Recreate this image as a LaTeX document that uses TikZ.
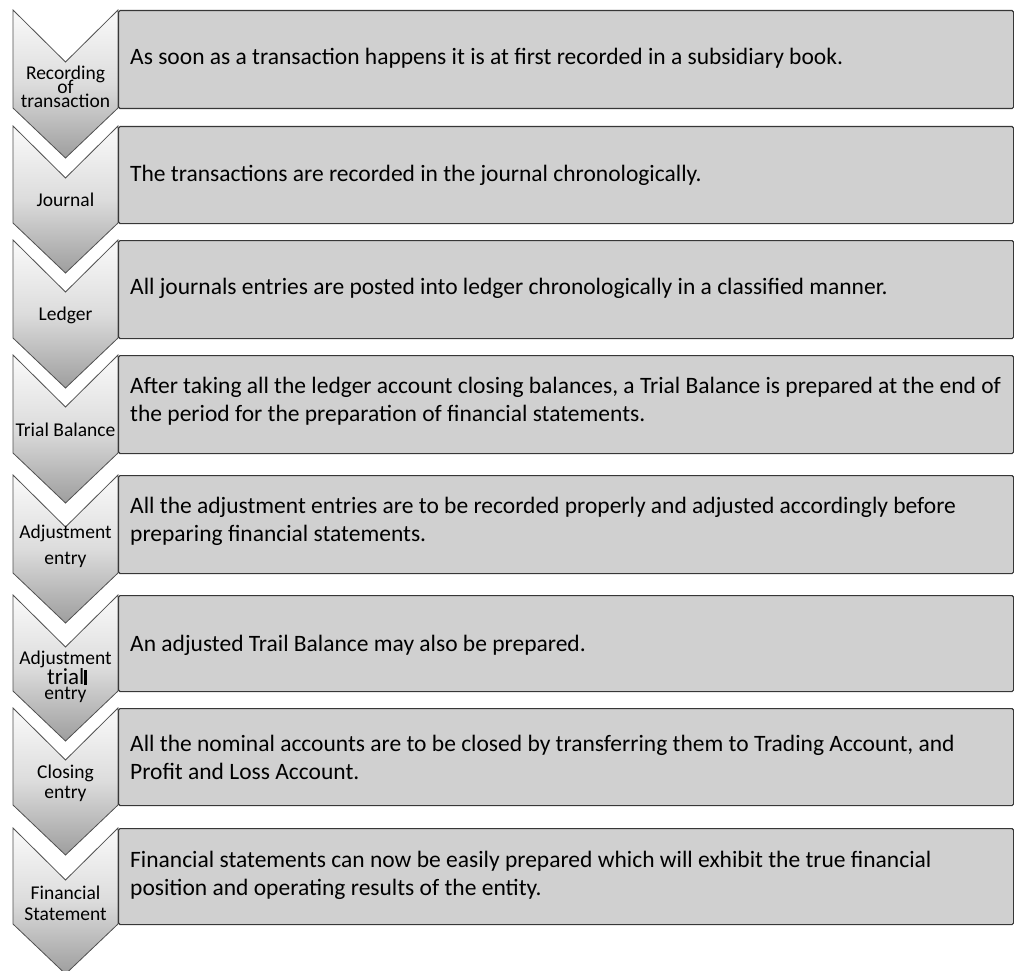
\documentclass[tikz,border=0pt]{standalone}
\usepackage{fontspec}
\setmainfont{Carlito}
\definecolor{boxfill}{RGB}{208,208,208}
\definecolor{boxline}{RGB}{55,55,55}
\definecolor{chevtop}{RGB}{250,250,250}
\definecolor{chevmid}{RGB}{220,220,220}
\definecolor{chevbot}{RGB}{158,158,158}
\definecolor{chevline}{RGB}{80,80,80}
\newcommand\clines[1]{\vtop{\halign{\hfil##\hfil\cr#1\crcr}}}
\newcommand\llines[1]{\vtop{\halign{##\hfil\cr#1\crcr}}}
\lineskiplimit=-100pt\relax
\begin{document}
\begin{tikzpicture}[x=1pt,y=-1pt,
  box/.style={draw=boxline, fill=boxfill, line width=1.1pt, rounded corners=1.5pt,
    anchor=north west, minimum width=895pt, inner sep=0pt},
  desc/.style={anchor=base west, inner sep=0pt, font=\fontsize{23.5}{28}\selectfont},
  lab/.style={anchor=base, inner sep=0pt, font=\fontsize{19.5}{14}\selectfont},
  chev/.style={draw=chevline, line width=0.8pt, top color=chevtop, bottom color=chevbot, middle color=chevmid}]
\useasboundingbox (0,0) rectangle (1014,971);
% chevrons
\foreach \t/\b in {10/108,126/223,240/338,355/453,475/573,595/691,708/805,828/924}{
  \path[chev] (13,\t) -- (65.5,\t+52) -- (118,\t) -- (118,\b) -- (65.5,\b+50) -- (13,\b) -- cycle;
}
% boxes
\node[box, minimum height=98pt] (b1) at (118,10) {};
\node[box, minimum height=97pt] (b2) at (118,126) {};
\node[box, minimum height=98pt] (b3) at (118,240) {};
\node[box, minimum height=98pt] (b4) at (118,355) {};
\node[box, minimum height=98pt] (b5) at (118,475) {};
\node[box, minimum height=96pt] (b6) at (118,595) {};
\node[box, minimum height=97pt] (b7) at (118,708) {};
\node[box, minimum height=96pt] (b8) at (118,828) {};
% descriptions
\node[desc] (d1) at (130,65) {As soon as a transaction happens it is at first recorded in a subsidiary book.};
\node[desc] (d2) at (130,181) {The transactions are recorded in the journal chronologically.};
\node[desc] (d3) at (130,294) {All journals entries are posted into ledger chronologically in a classified manner.};
\node[desc] (d4) at (130,393) {\llines{After taking all the ledger account closing balances, a Trial Balance is prepared at the end of\cr the period for the preparation of financial statements.}};
\node[desc] (d5) at (130,513) {\llines{All the adjustment entries are to be recorded properly and adjusted accordingly before\cr preparing financial statements.}};
\node[desc] (d6) at (130,651) {An adjusted Trail Balance may also be prepared.};
\node[desc] (d7) at (130,751) {\llines{All the nominal accounts are to be closed by transferring them to Trading Account, and\cr Profit and Loss Account.}};
\node[desc] (d8) at (130,867) {\llines{Financial statements can now be easily prepared which will exhibit the true financial\cr position and operating results of the entity.}};
% labels
\node[lab] (l1) at (65.5,80) {\clines{Recording\cr of\cr transaction}};
\node[lab] (l2) at (65.5,206) {Journal};
\node[lab] (l3) at (65.5,320) {Ledger};
\node[lab] (l4) at (65.5,436) {Trial Balance};
\node[lab, font=\fontsize{19.5}{26}\selectfont] (l5) at (65.5,538) {\clines{Adjustment\cr entry}};
\node[lab] (l6) at (65.5,664) {Adjustment};
\node[lab, font=\fontsize{23}{23}\selectfont] (l6b) at (67,684) {trial\rule[-1pt]{2.5pt}{15pt}};
\node[lab] (l6c) at (65.5,699) {entry};
\node[lab, font=\fontsize{19.5}{20}\selectfont] (l7) at (65.5,778) {\clines{Closing\cr entry}};
\node[lab, font=\fontsize{19.5}{21}\selectfont] (l8) at (65.5,899) {\clines{Financial\cr Statement}};
\end{tikzpicture}
\end{document}
